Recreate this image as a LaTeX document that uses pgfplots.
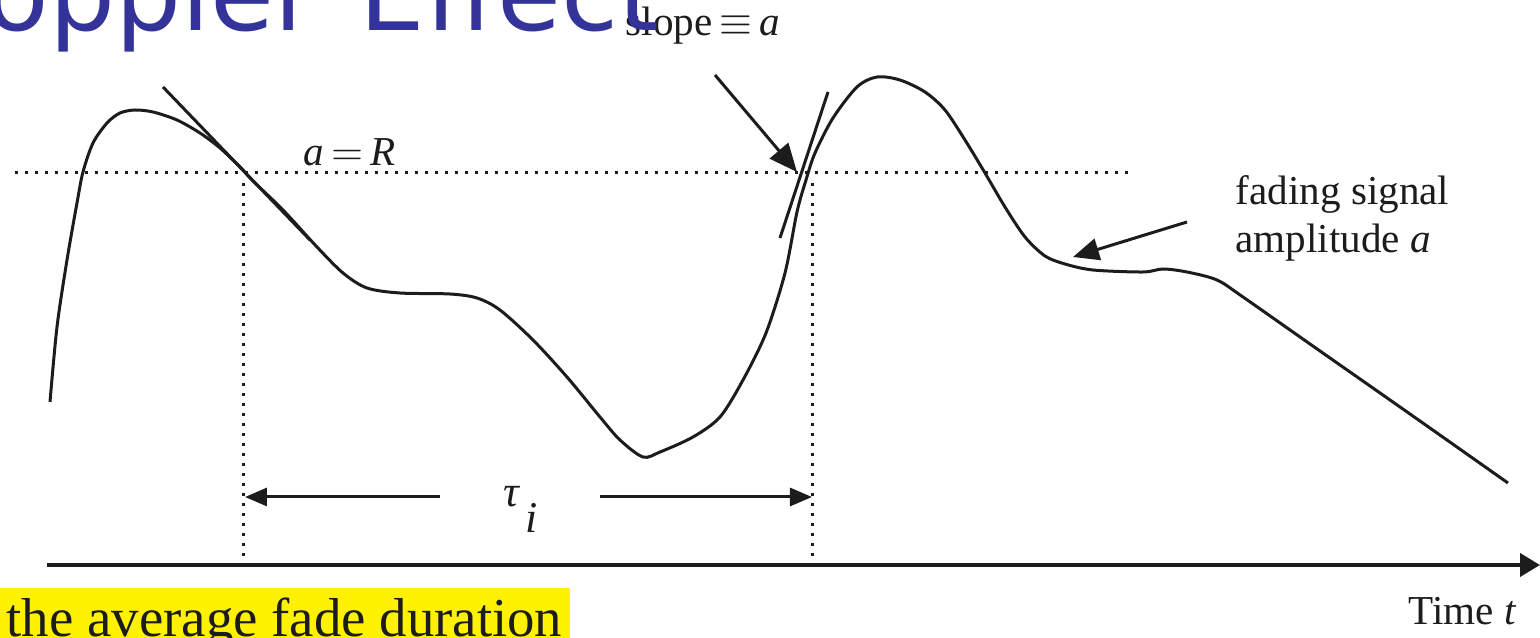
\documentclass[border=0pt]{standalone}
\usepackage{pgfplots}
\pgfplotsset{compat=1.18}
\usepackage{fontspec}
\setmainfont{Liberation Serif}
\newfontfamily\titlefont{DejaVu Sans}
\usetikzlibrary{arrows.meta}
\definecolor{titleblue}{RGB}{51,51,153}
\definecolor{ink}{RGB}{28,28,28}

\begin{document}
\begin{tikzpicture}
\useasboundingbox (0,0) rectangle (154mm,63.8mm);
\clip (0,0) rectangle (154mm,63.8mm);
\begin{axis}[
  at={(0,0)}, anchor=south west,
  width=154mm, height=63.8mm, scale only axis,
  xmin=0, xmax=1540, ymin=0, ymax=638, y dir=reverse,
  hide axis, clip=false,
]
% highlighted caption box
\fill[yellow] (axis cs:0,588) rectangle (axis cs:570,645);
\node[anchor=base west, inner sep=0, text=ink, font=\fontsize{15.6}{18}\selectfont]
  at (axis cs:6,636) {the average fade duration};

% threshold level a = R and the fade boundaries
\addplot[ink, line width=0.3mm, dash pattern=on 0.3mm off 0.7mm] coordinates {(15,173) (1133,173)};
\addplot[ink, line width=0.3mm, dash pattern=on 0.3mm off 0.7mm] coordinates {(244,183) (244,556)};
\addplot[ink, line width=0.3mm, dash pattern=on 0.3mm off 0.7mm] coordinates {(813,183) (813,556)};

% fading signal amplitude
\addplot[ink, line width=0.3mm, smooth, tension=0.5] coordinates {
 (50,402) (57,327) (67,260) (77,203) (83,172) (93,143) (107,123) (120,113)
 (135,110) (153,112) (177,120) (200,133) (220,148) (240,167) (253,181)
 (283,210) (317,247) (343,273) (367,288) (400,293) (450,294) (477,298)
 (500,310) (533,340) (567,377) (600,417) (620,440) (643,457) (660,452)
 (693,437) (720,417) (743,380) (766,333) (785,273) (797,212) (806,180)
 (815,153) (833,118) (857,87) (877,77) (900,80) (925,92) (945,110)
 (965,140) (985,173) (1005,207) (1025,237) (1045,256) (1065,264)
 (1093,270) (1143,272) (1163,269) (1187,272) (1217,280) (1243,297)
 (1310,344) (1410,414) (1508,483)};

% tangent lines at the crossings
\addplot[ink, line width=0.3mm, solid, no marks] coordinates {(163,87) (310,240)};
\addplot[ink, line width=0.3mm, solid, no marks] coordinates {(780,238) (828,92)};

% time axis
\draw[ink, line width=0.4mm, -{Triangle[length=2mm,width=2.3mm]}] (axis cs:47,565) -- (axis cs:1540,565);
\node[anchor=base west, inner sep=0, text=ink, font=\fontsize{11.7}{14}\selectfont]
  at (axis cs:1408,624) {Time \textit{t}};

% fade duration arrows
\draw[ink, line width=0.3mm, -{Triangle[length=2.2mm,width=1.8mm]}] (axis cs:440,497) -- (axis cs:245,497);
\draw[ink, line width=0.3mm, -{Triangle[length=2.2mm,width=1.8mm]}] (axis cs:600,497) -- (axis cs:812,497);
\node[anchor=base west, inner sep=0, text=ink, font=\fontsize{12.5}{14}\selectfont]
  at (axis cs:503,507) {\textit{τ\kern0.6mm\raisebox{-2.6mm}{i}}};

% annotations
\node[anchor=base west, inner sep=0, text=ink, font=\fontsize{11.7}{14}\selectfont]
  at (axis cs:303,166) {\textit{a}\,$=$\,\textit{R}};
\draw[ink, line width=0.3mm, -{Triangle[length=2.8mm,width=2.4mm]}] (axis cs:715,75) -- (axis cs:797,172);
\node[anchor=base west, inner sep=0, text=ink, font=\fontsize{11.7}{14}\selectfont]
  at (axis cs:625,36) {slope\,$\equiv$\,\textit{a}};

\draw[ink, line width=0.3mm, -{Triangle[length=2.6mm,width=2.2mm]}] (axis cs:1187,222) -- (axis cs:1073,257);
\node[anchor=base west, inner sep=0, text=ink, font=\fontsize{11.7}{14}\selectfont]
  at (axis cs:1235,205) {fading signal};
\node[anchor=base west, inner sep=0, text=ink, font=\fontsize{11.7}{14}\selectfont]
  at (axis cs:1235,253) {amplitude \textit{a}};

% slide title
\node[anchor=base east, inner sep=0, text=titleblue, font=\titlefont\fontsize{29.6}{31}\selectfont]
  at (axis cs:660,31) {\spaceskip=4.3mm\relax Doppler Effect};
\end{axis}
\end{tikzpicture}
\end{document}
